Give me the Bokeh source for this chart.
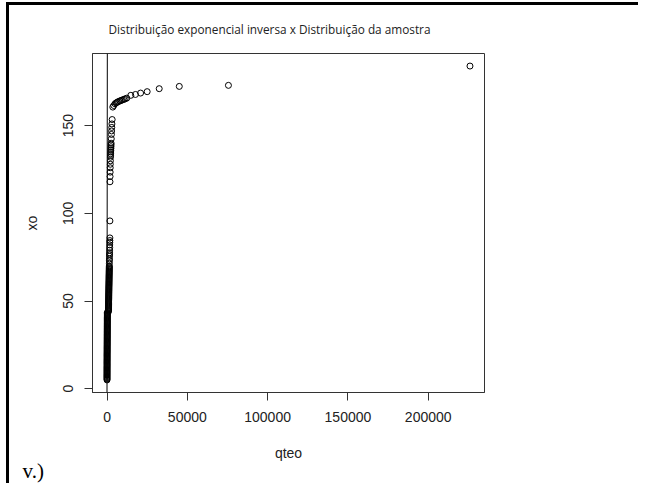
from bokeh.plotting import figure
from bokeh.models import FixedTicker, Slope, Range1d, Title, InlineStyleSheet
from bokeh.embed import file_html
from bokeh.resources import INLINE

title_text = "Distribuição exponencial inversa x Distribuição da amostra"
x_label = "qteo"
y_label = "xo"
caption = "v.)"
x_ticks = [0, 50000, 100000, 150000, 200000]
x_tick_labels = ["0", "50000", "100000", "150000", "200000"]
y_ticks = [0, 50, 100, 150]
y_tick_labels = ["0", "50", "100", "150"]

# dense lower body of the sample (xo) vs theoretical quantiles (qteo)
qteo_body = [0, 1, 3, 4, 6, 7, 9, 10, 12, 14,
             16, 18, 20, 22, 24, 26, 28, 30, 32, 34,
             36, 38, 40, 42, 44, 46, 48, 50, 52, 55,
             58, 61, 64, 67, 70, 73, 76, 79, 82, 85,
             88, 91, 94, 97, 100, 103, 106, 109, 112, 115,
             118, 121, 124, 127, 130, 133, 136, 139, 142, 145,
             148, 151, 154, 157, 160, 163, 166, 169, 172, 175,
             178, 181, 184, 187, 190, 193, 196, 200]
xo_body = [5.0, 5.5, 6.0, 6.5, 7.0, 7.5, 8.0, 8.5, 9.0, 9.5,
           10.0, 10.5, 11.0, 11.5, 12.0, 12.5, 13.0, 13.5, 14.0, 14.5,
           15.0, 15.5, 16.0, 16.5, 17.0, 17.5, 18.0, 18.5, 19.0, 19.5,
           20.0, 20.5, 21.0, 21.5, 22.0, 22.5, 23.0, 23.5, 24.0, 24.5,
           25.0, 25.5, 26.0, 26.5, 27.0, 27.5, 28.0, 28.5, 29.0, 29.5,
           30.0, 30.5, 31.0, 31.5, 32.0, 32.5, 33.0, 33.5, 34.0, 34.5,
           35.0, 35.5, 36.0, 36.5, 37.0, 37.5, 38.0, 38.5, 39.0, 39.5,
           40.0, 40.5, 41.0, 41.5, 42.0, 42.5, 43.0, 43.5]

qteo_upper = [900, 910, 920, 930, 940, 950, 960, 970, 980, 990,
              1000, 1010, 1020, 1030, 1040, 1050, 1060, 1070, 1080, 1090,
              1100, 1110, 1120, 1130, 1140, 1150, 1160, 1170, 1180, 1190,
              1200, 1210, 1220, 1230, 1240, 1250, 1260, 1270, 1280, 1290,
              1300, 1310, 1320, 1330, 1340, 1350, 1360, 1370, 1380, 1390,
              1400, 1410, 1420]
xo_upper = [44.0, 44.5, 45.0, 45.5, 46.0, 46.5, 47.0, 47.5, 48.0, 48.5,
            49.0, 49.5, 50.0, 50.5, 51.0, 51.5, 52.0, 52.5, 53.0, 53.5,
            54.0, 54.5, 55.0, 55.5, 56.0, 56.5, 57.0, 57.5, 58.0, 58.5,
            59.0, 59.5, 60.0, 60.5, 61.0, 61.5, 62.0, 62.5, 63.0, 63.5,
            64.0, 64.5, 65.0, 65.5, 66.0, 66.5, 67.0, 67.5, 68.0, 68.5,
            69.0, 69.5, 70.0]

qteo_tail = [1450, 1480, 1510, 1540, 1570, 1600, 1630, 1660, 1690, 1720,
             1750, 1780, 1800, 1850, 1900, 1950, 2000, 2050, 2100, 2150,
             2200, 2250, 2300, 2350, 2400, 2450, 2500, 2550, 2650, 2750,
             2850, 2950, 3050, 3200, 3600, 4200, 5000, 5700, 6400, 7200,
             8000, 8800, 9600, 10500, 11300, 12300, 14800, 17700, 20900, 25000,
             32500, 45000, 75600, 226000]
xo_tail = [71.5, 73.0, 74.0, 75.5, 76.5, 77.5, 79.0, 80.5, 82.0, 83.5,
           84.5, 86.0, 95.7, 118.0, 121.0, 123.5, 126.0, 128.0, 130.0, 132.0,
           133.0, 134.0, 135.0, 136.0, 137.0, 138.0, 139.0, 140.0, 142.5, 145.0,
           147.0, 149.0, 151.0, 153.5, 160.6, 161.5, 162.5, 163.0, 163.4, 163.8,
           164.1, 164.4, 164.7, 165.0, 165.3, 165.7, 167.3, 167.8, 168.6, 169.4,
           171.1, 172.4, 173.0, 184.0]

qteo = qteo_body + qteo_upper + qteo_tail
xo = xo_body + xo_upper + xo_tail

# R-style 4% padding
xmin, xmax = min(qteo), max(qteo)
ymin, ymax = min(xo), max(xo)
xpad = 0.04 * (xmax - xmin)
ypad = 0.04 * (ymax - ymin)

W, H = 638, 483
FL, FT, FR, FB = 92, 53, 484, 392   # frame edges on the canvas
p = figure(width=W, height=H, output_backend="svg", toolbar_location=None,
           x_range=Range1d(xmin - xpad, xmax + xpad),
           y_range=Range1d(ymin - ypad, ymax + ypad),
           min_border_left=FL, min_border_right=W - FR,
           min_border_top=FT, min_border_bottom=H - FB)
p.background_fill_color = "white"
p.border_fill_color = "white"
p.outline_line_color = "#333333"
p.outline_line_width = 1
p.xgrid.visible = False
p.ygrid.visible = False

p.add_layout(Slope(gradient=1, y_intercept=0, line_color="black", line_width=1))
p.scatter(qteo, xo, marker="circle", size=6, fill_color=None,
          line_color="black", line_width=1)

for ax in (p.xaxis[0], p.yaxis[0]):
    ax.axis_line_color = "#333333"
    ax.major_tick_line_color = "#333333"
    ax.major_tick_in = 0
    ax.major_tick_out = 8
    ax.minor_tick_line_color = None
    ax.major_label_text_font = "Liberation Sans"
    ax.major_label_text_font_size = "14px"
    ax.major_label_text_color = "#222222"
    ax.axis_label_text_font = "Liberation Sans"
    ax.axis_label_text_font_size = "14px"
    ax.axis_label_text_font_style = "normal"
    ax.axis_label_text_color = "#222222"

p.xaxis[0].major_label_standoff = 11
p.xaxis[0].axis_label_standoff = 20
p.yaxis[0].major_label_standoff = 11
p.yaxis[0].axis_label_standoff = 21

p.xaxis[0].ticker = FixedTicker(ticks=x_ticks)
p.xaxis[0].major_label_overrides = dict(zip(x_ticks, x_tick_labels))
p.yaxis[0].ticker = FixedTicker(ticks=y_ticks)
p.yaxis[0].major_label_orientation = "vertical"
p.yaxis[0].major_label_overrides = dict(zip(y_ticks, y_tick_labels))
p.xaxis[0].axis_label = x_label
p.yaxis[0].axis_label = y_label

p.title = Title(text=title_text, align="left", offset=108 - FL, standoff=33,
                text_font="Open Sans", text_font_size="11.8px",
                text_font_style="normal", text_color="#222222")
p.add_layout(Title(text=caption, align="left", offset=22 - FL, standoff=-13,
                   text_font="Liberation Serif", text_font_size="21px",
                   text_font_style="normal", text_color="black"), "below")

# outer page frame (left and top rules) drawn as CSS pseudo-elements
p.stylesheets = [InlineStyleSheet(css="""
:host::before { content: ""; position: absolute; left: 6px; top: 2px;
  width: 3px; height: 481px; background: #000; z-index: 5; pointer-events: none; }
:host::after { content: ""; position: absolute; left: 6px; top: 2px;
  width: 632px; height: 3px; background: #000; z-index: 5; pointer-events: none; }
""")]

open("out.html", "w").write(file_html(p, INLINE))
